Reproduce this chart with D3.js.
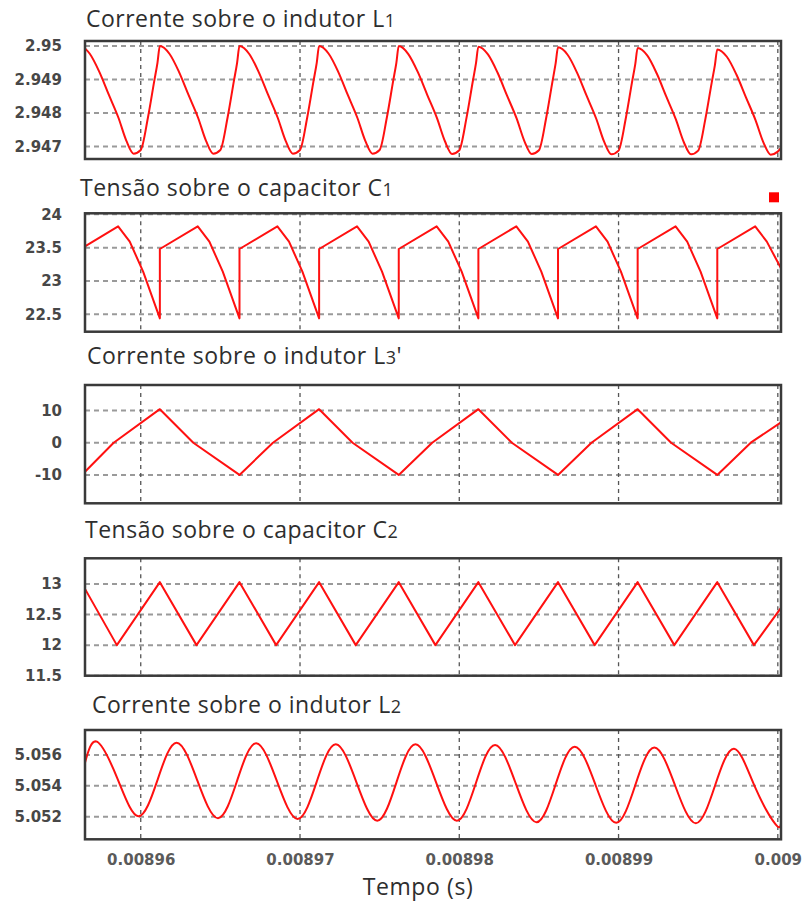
<!DOCTYPE html>
<html>
<head>
<meta charset="utf-8">
<script src="https://cdn.jsdelivr.net/npm/d3@7/dist/d3.min.js"></script>
<style>
  body { margin: 0; background: #fff; }
  .title { font-family: "Open Sans", sans-serif; font-size: 23px; letter-spacing: 0.5px; fill: #2e2e2e; }
  .axis text { font-family: "DejaVu Sans", sans-serif; font-weight: bold; font-size: 15px; fill: #474747; }
  .xlabel { font-family: "Open Sans", sans-serif; font-size: 23px; letter-spacing: 0.6px; fill: #2e2e2e; }
</style>
</head>
<body>
<div id="chart"></div>
<script>
// time in microseconds, x axis shared by all panels
let timeDomain = [8956.5, 9000.2];
let timeTicks = [8960, 8970, 8980, 8990, 9000];
let timeTickLabels = ["0.00896", "0.00897", "0.00898", "0.00899", "0.009"];

let titleTexts = ["Corrente sobre o indutor L", "Tensão sobre o capacitor C", "Corrente sobre o indutor L",
  "Tensão sobre o capacitor C", "Corrente sobre o indutor L"];
let titleSubs = ["1", "1", "3", "2", "2"];
let titleTails = ["", "", "'", "", ""];

// Corrente L1
let l1Time = [
  8956.5, 8956.8, 8957.4, 8958.0, 8958.6, 8959.1, 8959.55, 8960.0, 8960.45, 8960.85, 8961.05, 8961.2,
  8961.8, 8962.4, 8963.0, 8963.6, 8964.1, 8964.55, 8965.0, 8965.45, 8965.85, 8966.05, 8966.2,
  8966.8, 8967.4, 8968.0, 8968.6, 8969.1, 8969.55, 8970.0, 8970.45, 8970.85, 8971.05, 8971.2,
  8971.8, 8972.4, 8973.0, 8973.6, 8974.1, 8974.55, 8975.0, 8975.45, 8975.85, 8976.05, 8976.2,
  8976.8, 8977.4, 8978.0, 8978.6, 8979.1, 8979.55, 8980.0, 8980.45, 8980.85, 8981.05, 8981.2,
  8981.8, 8982.4, 8983.0, 8983.6, 8984.1, 8984.55, 8985.0, 8985.45, 8985.85, 8986.05, 8986.2,
  8986.8, 8987.4, 8988.0, 8988.6, 8989.1, 8989.55, 8990.0, 8990.45, 8990.85, 8991.05, 8991.2,
  8991.8, 8992.4, 8993.0, 8993.6, 8994.1, 8994.55, 8995.0, 8995.45, 8995.85, 8996.05, 8996.2,
  8996.8, 8997.4, 8998.0, 8998.6, 8999.1, 8999.55, 9000.0, 9000.2
];
let l1Value = [
  2.94993, 2.94977, 2.94923, 2.94854, 2.94786, 2.94717, 2.94679, 2.9469, 2.94786, 2.94896, 2.9495, 2.95,
  2.94977, 2.94923, 2.94854, 2.94786, 2.94717, 2.94679, 2.9469, 2.94786, 2.94896, 2.9495, 2.95,
  2.94977, 2.94923, 2.94854, 2.94786, 2.94717, 2.94679, 2.9469, 2.94786, 2.94896, 2.9495, 2.95,
  2.94977, 2.94923, 2.94854, 2.94786, 2.94717, 2.94679, 2.9469, 2.94786, 2.94896, 2.9495, 2.95,
  2.94976, 2.94922, 2.94853, 2.94785, 2.94716, 2.94678, 2.94689, 2.94785, 2.94895, 2.94949, 2.94998,
  2.94975, 2.94921, 2.94852, 2.94784, 2.94715, 2.94678, 2.94689, 2.94784, 2.94894, 2.94948, 2.94996,
  2.94974, 2.9492, 2.94851, 2.94783, 2.94714, 2.94677, 2.94688, 2.94783, 2.94893, 2.94946, 2.94994,
  2.94972, 2.94918, 2.94849, 2.94781, 2.94713, 2.94677, 2.94688, 2.94782, 2.94891, 2.94943, 2.9499,
  2.94968, 2.94915, 2.94847, 2.94779, 2.94712, 2.94676, 2.94685, 2.94696
];
let l1Ticks = [2.95, 2.949, 2.948, 2.947];
let l1Labels = ["2.95", "2.949", "2.948", "2.947"];
let l1Domain = [2.94663, 2.95015];

// Tensao C1
let c1Time = [
  8956.5, 8958.58, 8959.31, 8960.15, 8961.2, 8961.2,
  8963.58, 8964.31, 8965.15, 8966.2, 8966.2,
  8968.58, 8969.31, 8970.15, 8971.2, 8971.2,
  8973.58, 8974.31, 8975.15, 8976.2, 8976.2,
  8978.58, 8979.31, 8980.15, 8981.2, 8981.2,
  8983.58, 8984.31, 8985.15, 8986.2, 8986.2,
  8988.58, 8989.31, 8990.15, 8991.2, 8991.2,
  8993.58, 8994.31, 8995.15, 8996.2, 8996.2,
  8998.58, 8999.31, 9000.2
];
let c1Value = [
  23.52, 23.82, 23.59, 23.14, 22.44, 23.48,
  23.82, 23.59, 23.14, 22.44, 23.48,
  23.82, 23.59, 23.14, 22.44, 23.48,
  23.82, 23.59, 23.14, 22.44, 23.48,
  23.82, 23.59, 23.14, 22.44, 23.48,
  23.82, 23.59, 23.14, 22.44, 23.48,
  23.82, 23.59, 23.14, 22.44, 23.48,
  23.82, 23.59, 23.14, 22.44, 23.48,
  23.82, 23.59, 23.19
];
let c1Ticks = [24, 23.5, 23, 22.5];
let c1Labels = ["24", "23.5", "23", "22.5"];
let c1Domain = [22.24, 24.015];

// Corrente L3'
let l3Time = [8956.5, 8958.3, 8961.2, 8963.3, 8966.2, 8968.3, 8971.2, 8973.3, 8976.2, 8978.3,
  8981.2, 8983.3, 8986.2, 8988.3, 8991.2, 8993.3, 8996.2, 8998.3, 9000.2];
let l3Value = [-9, 0, 10.4, 0, -10, 0, 10.4, 0, -10, 0, 10.4, 0, -10, 0, 10.4, 0, -10, 0, 6.3];
let l3Ticks = [10, 0, -10];
let l3Labels = ["10", "0", "-10"];
let l3Domain = [-18.8, 17.9];

// Tensao C2
let c2Time = [8956.5, 8958.5, 8961.2, 8963.5, 8966.2, 8968.5, 8971.2, 8973.5, 8976.2, 8978.5,
  8981.2, 8983.5, 8986.2, 8988.5, 8991.2, 8993.5, 8996.2, 8998.5, 9000.2];
let c2Value = [12.92, 12.0, 13.03, 12.0, 13.03, 12.0, 13.03, 12.0, 13.03, 12.0,
  13.03, 12.0, 13.03, 12.0, 13.03, 12.0, 13.03, 12.0, 12.61];
let c2Ticks = [13, 12.5, 12, 11.5];
let c2Labels = ["13", "12.5", "12", "11.5"];
let c2Domain = [11.5, 13.42];

// Corrente L2
let l2Time = [
  8956.5, 8957.25, 8958.55, 8959.85, 8961.05, 8962.25, 8963.55, 8964.85, 8966.05,
  8967.25, 8968.55, 8969.85, 8971.05, 8972.25, 8973.55, 8974.85, 8976.05,
  8977.25, 8978.55, 8979.85, 8981.05, 8982.25, 8983.55, 8984.85, 8986.05,
  8987.25, 8988.55, 8989.85, 8991.05, 8992.25, 8993.55, 8994.85, 8996.05,
  8997.25, 8998.55, 8999.85, 9000.2
];
let l2Value = [
  5.0555, 5.05686, 5.05444, 5.05203, 5.05437, 5.0568, 5.05435, 5.0519, 5.05433,
  5.05676, 5.0543, 5.05185, 5.05427, 5.05669, 5.05421, 5.05174, 5.05421,
  5.05669, 5.05421, 5.05174, 5.0542, 5.05665, 5.05414, 5.05164, 5.05409,
  5.05654, 5.05407, 5.0516, 5.05404, 5.05648, 5.05402, 5.05157, 5.05399,
  5.05641, 5.05396, 5.05152, 5.05155
];
let l2Ticks = [5.056, 5.054, 5.052];
let l2Labels = ["5.056", "5.054", "5.052"];
let l2Domain = [5.05053, 5.05762];

let width = 803,
  height = 904,
  left = 85,
  right = 781;

let panels = [
  { t: l1Time, v: l1Value, ticks: l1Ticks, labels: l1Labels, domain: l1Domain, curve: d3.curveMonotoneX, top: 41, bottom: 159, titleX: 86, titleY: 27 },
  { t: c1Time, v: c1Value, ticks: c1Ticks, labels: c1Labels, domain: c1Domain, curve: d3.curveLinear, top: 213.3, bottom: 331.7, titleX: 80, titleY: 196 },
  { t: l3Time, v: l3Value, ticks: l3Ticks, labels: l3Labels, domain: l3Domain, curve: d3.curveLinear, top: 385, bottom: 503.3, titleX: 87, titleY: 364 },
  { t: c2Time, v: c2Value, ticks: c2Ticks, labels: c2Labels, domain: c2Domain, curve: d3.curveLinear, top: 558.3, bottom: 675.7, titleX: 85, titleY: 538 },
  { t: l2Time, v: l2Value, ticks: l2Ticks, labels: l2Labels, domain: l2Domain, curve: d3.curveNatural, top: 730, bottom: 839.3, titleX: 92, titleY: 713 }
];

let svg = d3
  .select("#chart")
  .append("svg")
  .attr("width", width)
  .attr("height", height);

let xScale = d3.scaleLinear().domain(timeDomain).range([left, right]);

panels.forEach((p, i) => {
  let yScale = d3.scaleLinear().domain(p.domain).range([p.bottom, p.top]);
  let g = svg.append("g");

  let title = g
    .append("text")
    .attr("class", "title")
    .attr("x", p.titleX)
    .attr("y", p.titleY)
    .text(titleTexts[i]);
  title.append("tspan").attr("font-size", "18px").text(titleSubs[i]);
  if (titleTails[i]) title.append("tspan").text(titleTails[i]);

  // horizontal grid
  g.selectAll(".hgrid")
    .data(p.ticks)
    .enter()
    .append("line")
    .attr("x1", left)
    .attr("x2", right)
    .attr("y1", (d) => yScale(d))
    .attr("y2", (d) => yScale(d))
    .attr("stroke", "#9a9a9a")
    .attr("stroke-width", 2)
    .attr("stroke-dasharray", "5,4");

  // vertical grid
  g.selectAll(".vgrid")
    .data(timeTicks)
    .enter()
    .append("line")
    .attr("x1", (d) => xScale(d))
    .attr("x2", (d) => xScale(d))
    .attr("y1", p.top)
    .attr("y2", p.bottom)
    .attr("stroke", "#555")
    .attr("stroke-width", 1.3)
    .attr("stroke-dasharray", "4,4");

  let line = d3
    .line()
    .x((d, j) => xScale(p.t[j]))
    .y((d) => yScale(d))
    .curve(p.curve);

  g.append("path")
    .datum(p.v)
    .attr("d", line)
    .attr("fill", "none")
    .attr("stroke", "#ff1010")
    .attr("stroke-width", 2)
    .attr("stroke-linejoin", "round");

  g.append("rect")
    .attr("x", left)
    .attr("y", p.top)
    .attr("width", right - left)
    .attr("height", p.bottom - p.top)
    .attr("fill", "none")
    .attr("stroke", "#3a3a3a")
    .attr("stroke-width", 2.5);

  let yAxis = d3
    .axisLeft(yScale)
    .tickValues(p.ticks)
    .tickFormat((d, j) => p.labels[j])
    .tickSize(0)
    .tickPadding(23);

  g.append("g")
    .attr("class", "axis")
    .attr("transform", "translate(" + left + ",0)")
    .call(yAxis)
    .call((a) => a.select(".domain").remove());

  if (i == 1) {
    // small red marker above the C1 panel
    g.append("rect")
      .attr("x", right - 12)
      .attr("y", p.top - 21)
      .attr("width", 10)
      .attr("height", 10)
      .attr("fill", "#ff0000");
  }

  if (i == panels.length - 1) {
    let xAxis = d3
      .axisBottom(xScale)
      .tickValues(timeTicks)
      .tickFormat((d, j) => timeTickLabels[j])
      .tickSize(0)
      .tickPadding(15);

    let xg = g
      .append("g")
      .attr("class", "axis")
      .attr("transform", "translate(0," + p.bottom + ")")
      .call(xAxis)
      .call((a) => a.select(".domain").remove());
    xg.selectAll("text").style("fill", "#5a5a5a");

    g.append("text")
      .attr("class", "xlabel")
      .attr("x", 418)
      .attr("y", 895)
      .attr("text-anchor", "middle")
      .text("Tempo (s)");
  }
});
</script>
</body>
</html>
